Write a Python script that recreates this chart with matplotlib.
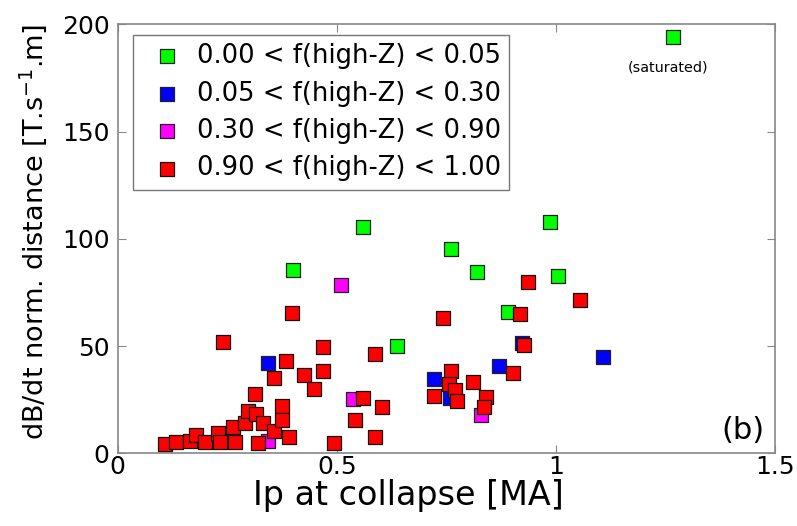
import matplotlib.pyplot as plt

plt.rcParams['font.family'] = ['DejaVu Sans']

# f(high-Z) groups: Ip at collapse [MA], dB/dt norm. distance
green_x = [0.40, 0.56, 0.637, 0.761, 0.821, 0.891, 0.987, 1.005, 1.268]
green_y = [85.5, 105.4, 50.0, 95.1, 84.4, 65.7, 107.8, 82.6, 194.0]

blue_x = [0.343, 0.722, 0.759, 0.871, 0.923, 1.108]
blue_y = [42.1, 34.6, 25.8, 40.7, 51.4, 44.9]

magenta_x = [0.51, 0.537, 0.343, 0.829]
magenta_y = [78.4, 25.3, 5.8, 17.8]

red_x = [0.108, 0.133, 0.165, 0.179, 0.200, 0.229, 0.233, 0.264, 0.267, 0.240,
         0.291, 0.298, 0.316, 0.313, 0.320, 0.331, 0.356, 0.357, 0.375, 0.375,
         0.391, 0.384, 0.398, 0.425, 0.448, 0.469, 0.469, 0.494, 0.542, 0.560,
         0.588, 0.604, 0.588, 0.722, 0.743, 0.761, 0.757, 0.770, 0.775, 0.811,
         0.841, 0.837, 0.902, 0.918, 0.928, 0.937, 1.056]
red_y = [4.5, 5.3, 5.7, 8.5, 5.3, 9.3, 5.3, 12.3, 5.3, 52.0,
         14.0, 19.7, 18.3, 27.6, 4.8, 14.0, 10.4, 35.0, 22.0, 15.5,
         7.5, 43.0, 65.4, 36.5, 30.0, 49.6, 38.4, 4.8, 15.5, 25.8,
         46.3, 21.6, 7.6, 26.8, 63.0, 38.4, 32.3, 29.5, 24.4, 33.3,
         26.3, 21.6, 37.5, 64.8, 50.5, 79.9, 71.5]

labels = ['0.00 < f(high-Z) < 0.05', '0.05 < f(high-Z) < 0.30',
          '0.30 < f(high-Z) < 0.90', '0.90 < f(high-Z) < 1.00']

fig = plt.figure(figsize=(7.97, 5.26), dpi=100)
ax = fig.add_axes([0.1477, 0.138, 0.8243, 0.816])

ms = 115
ax.scatter(green_x, green_y, s=ms, marker='s', c='#00ff00', edgecolors='#222222', linewidths=0.9, label=labels[0], zorder=3)
ax.scatter(blue_x, blue_y, s=ms, marker='s', c='#0000ff', edgecolors='#222222', linewidths=0.9, label=labels[1], zorder=3)
ax.scatter(magenta_x, magenta_y, s=ms, marker='s', c='#ff00ff', edgecolors='#222222', linewidths=0.9, label=labels[2], zorder=3)
ax.scatter(red_x, red_y, s=ms, marker='s', c='#ff0000', edgecolors='#111111', linewidths=0.9, label=labels[3], zorder=3)

ax.set_xlim(0, 1.5)
ax.set_ylim(0, 200)
ax.set_xticks([0, 0.5, 1, 1.5])
ax.set_xticklabels(['0', '0.5', '1', '1.5'])
ax.set_yticks([0, 50, 100, 150, 200])

for sp in ax.spines.values():
    sp.set_color('#888888')
    sp.set_linewidth(1.2)
ax.tick_params(direction='in', top=True, right=True, length=6, color='#888888',
               labelsize=18, labelcolor='black')
ax.tick_params(axis='x', pad=1)
ax.tick_params(axis='y', pad=6)

ax.set_xlabel('Ip at collapse [MA]', fontsize=24, va='center')
ax.xaxis.set_label_coords(0.443, -0.097)
ax.set_ylabel('dB/dt norm. distance [T.s$^{-1}$.m]', fontsize=19.5, va='center')
ax.yaxis.set_label_coords(-0.129, 0.516)

ax.text(1.256, 179.6, '(saturated)', fontsize=10.4, ha='center', va='center')
ax.text(0.985, 0.054, '(b)', transform=ax.transAxes, fontsize=22, ha='right', va='center')

leg = ax.legend(loc='upper left', bbox_to_anchor=(0.0233, 0.975), borderaxespad=0,
                fontsize=18.6, frameon=True, fancybox=False,
                handletextpad=0.15, labelspacing=0.44, borderpad=0.32,
                handlelength=2.0, markerscale=0.9)
leg.get_frame().set_edgecolor('#555555')
leg.get_frame().set_linewidth(1.0)

fig.savefig('out.png', dpi=100)
